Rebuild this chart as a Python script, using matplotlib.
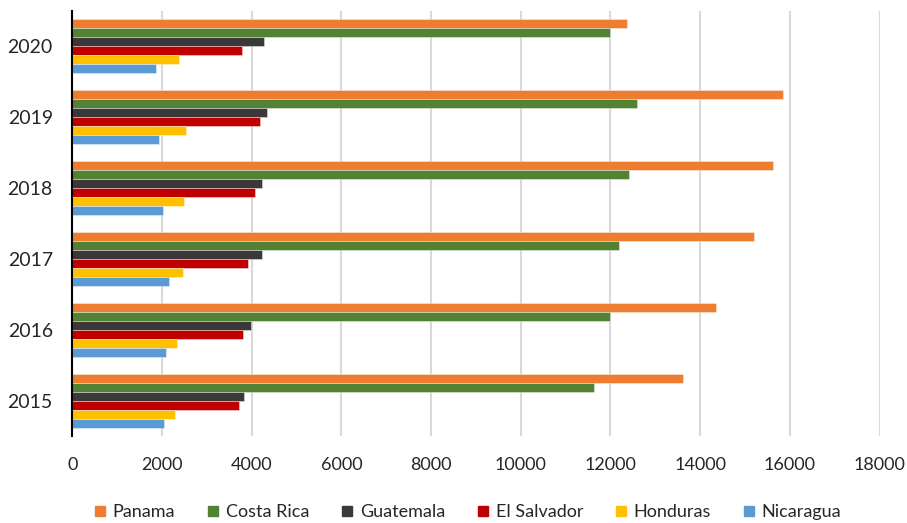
import numpy as np
import matplotlib.pyplot as plt
from matplotlib.lines import Line2D

plt.rcParams['font.family'] = ['Lato', 'DejaVu Sans']

years = ['2015', '2016', '2017', '2018', '2019', '2020']
countries = ['Panama', 'Costa Rica', 'Guatemala', 'El Salvador', 'Honduras', 'Nicaragua']
colors = ['#ED7D31', '#548235', '#3A3838', '#C00000', '#FFC000', '#5B9BD5']

panama = [13610, 14360, 15190, 15620, 15840, 12380]
costa_rica = [11640, 11990, 12190, 12420, 12600, 11990]
guatemala = [3830, 3980, 4230, 4240, 4340, 4280]
el_salvador = [3710, 3810, 3920, 4070, 4180, 3790]
honduras = [2300, 2340, 2460, 2490, 2540, 2390]
nicaragua = [2050, 2100, 2160, 2030, 1930, 1870]

series = [panama, costa_rica, guatemala, el_salvador, honduras, nicaragua]

fig = plt.figure(figsize=(9.07, 5.23), dpi=100)
ax = fig.add_axes([0.0797, 0.1663, 0.89, 0.8127])

y = np.arange(len(years))
h = 0.127
for i, (vals, c) in enumerate(zip(series, colors)):
    ax.barh(y + (2.5 - i) * h, vals, height=h, color=c,
            edgecolor=(1, 1, 1, 0.45), linewidth=0.6, zorder=3)

ax.set_xlim(0, 18000)
ax.set_ylim(-0.5, 5.5)
ax.set_xticks(np.arange(0, 18001, 2000))
ax.set_yticks(y)
ax.set_yticklabels(years, fontsize=14, color='#262626')
ax.tick_params(axis='x', length=0, pad=15, labelsize=13, labelcolor='#262626')
ax.tick_params(axis='y', length=0, pad=14)
ax.grid(axis='x', color='#D9D9D9', linewidth=1.5, zorder=0)
ax.set_axisbelow(True)

for s in ['top', 'right', 'bottom']:
    ax.spines[s].set_visible(False)
ax.spines['left'].set_color('black')
ax.spines['left'].set_linewidth(1.5)
ax.spines['left'].set_zorder(4)

handles = [Line2D([], [], marker='s', linestyle='none', markersize=7,
                  markerfacecolor=c, markeredgecolor=c) for c in colors]
fig.legend(handles, countries, loc='center', bbox_to_anchor=(0.515, 1 - 512 / 523),
           ncol=6, frameon=False, fontsize=13, handlelength=0.8,
           handletextpad=0.3, columnspacing=1.7, labelcolor='#262626')

fig.savefig('out.png', dpi=100)
